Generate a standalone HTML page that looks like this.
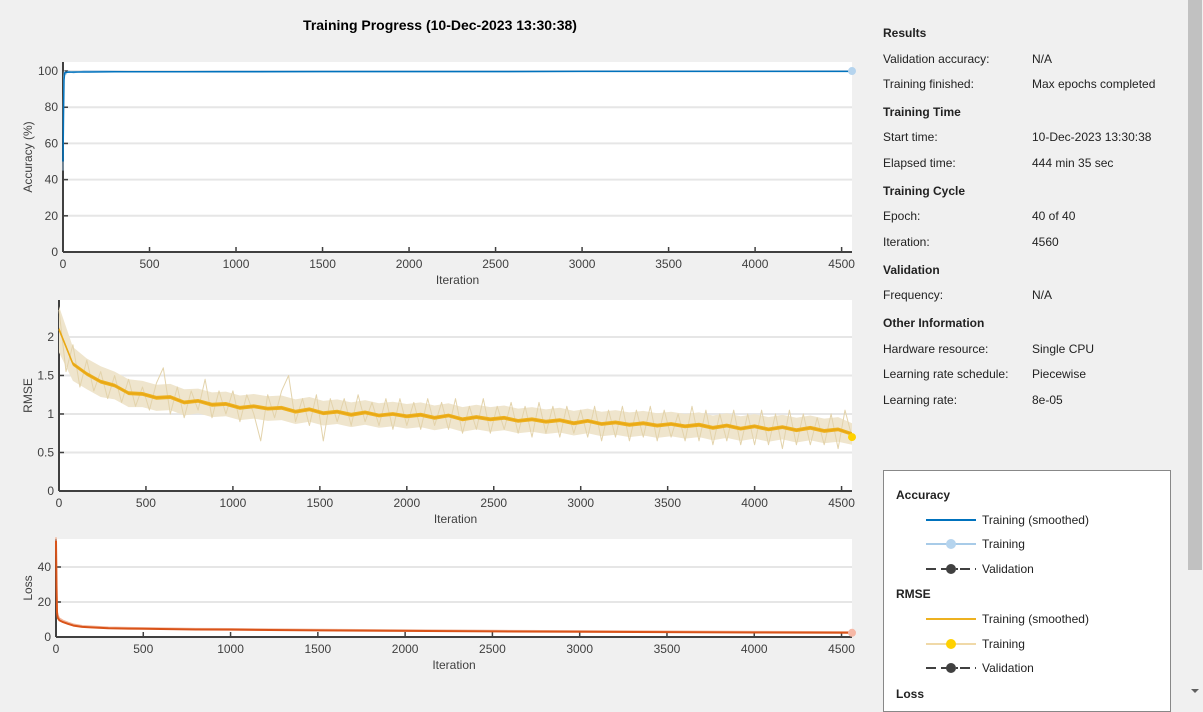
<!DOCTYPE html>
<html><head><meta charset="utf-8">
<style>
html,body{margin:0;padding:0;width:1203px;height:700px;overflow:hidden;background:#f0f0f0;font-family:"Liberation Sans",Arial,sans-serif;}
svg{position:absolute;left:0;top:0;}
.info{position:absolute;font-size:12px;color:#222;}
.hd{font-weight:bold;}
</style></head>
<body>
<svg id="chart" width="1203" height="700"></svg>

<div class="info hd" style="left:883px;top:26px">Results</div>
<div class="info" style="left:883px;top:52px">Validation accuracy:</div>
<div class="info" style="left:1032px;top:52px">N/A</div>
<div class="info" style="left:883px;top:77px">Training finished:</div>
<div class="info" style="left:1032px;top:77px">Max epochs completed</div>
<div class="info hd" style="left:883px;top:105px">Training Time</div>
<div class="info" style="left:883px;top:130px">Start time:</div>
<div class="info" style="left:1032px;top:130px">10-Dec-2023 13:30:38</div>
<div class="info" style="left:883px;top:156px">Elapsed time:</div>
<div class="info" style="left:1032px;top:156px">444 min 35 sec</div>
<div class="info hd" style="left:883px;top:184px">Training Cycle</div>
<div class="info" style="left:883px;top:209px">Epoch:</div>
<div class="info" style="left:1032px;top:209px">40 of 40</div>
<div class="info" style="left:883px;top:235px">Iteration:</div>
<div class="info" style="left:1032px;top:235px">4560</div>
<div class="info hd" style="left:883px;top:263px">Validation</div>
<div class="info" style="left:883px;top:288px">Frequency:</div>
<div class="info" style="left:1032px;top:288px">N/A</div>
<div class="info hd" style="left:883px;top:316px">Other Information</div>
<div class="info" style="left:883px;top:342px">Hardware resource:</div>
<div class="info" style="left:1032px;top:342px">Single CPU</div>
<div class="info" style="left:883px;top:367px">Learning rate schedule:</div>
<div class="info" style="left:1032px;top:367px">Piecewise</div>
<div class="info" style="left:883px;top:393px">Learning rate:</div>
<div class="info" style="left:1032px;top:393px">8e-05</div>

<div style="position:absolute;left:883px;top:470px;width:286px;height:240px;background:#fff;border:1px solid #888;">
  <svg width="286" height="240" style="position:absolute;left:0;top:0">
    <g font-size="12" fill="#222" font-family="Liberation Sans, Arial, sans-serif">
      <text x="12" y="28" font-weight="bold">Accuracy</text>
      <line x1="42" y1="49" x2="92" y2="49" stroke="#0072bd" stroke-width="2"/>
      <text x="98" y="53">Training (smoothed)</text>
      <line x1="42" y1="73" x2="92" y2="73" stroke="#a8cbe8" stroke-width="2"/>
      <circle cx="67" cy="73" r="5" fill="#b5d4ee"/>
      <text x="98" y="77">Training</text>
      <line x1="42" y1="98" x2="92" y2="98" stroke="#404040" stroke-width="2" stroke-dasharray="10,5,10,5,2,2"/>
      <circle cx="67" cy="98" r="5" fill="#404040"/>
      <text x="98" y="102">Validation</text>
      <text x="12" y="127" font-weight="bold">RMSE</text>
      <line x1="42" y1="148" x2="92" y2="148" stroke="#edb120" stroke-width="2"/>
      <text x="98" y="152">Training (smoothed)</text>
      <line x1="42" y1="173" x2="92" y2="173" stroke="#f0d9a8" stroke-width="2"/>
      <circle cx="67" cy="173" r="5" fill="#ffd100"/>
      <text x="98" y="177">Training</text>
      <line x1="42" y1="197" x2="92" y2="197" stroke="#404040" stroke-width="2" stroke-dasharray="10,5,10,5,2,2"/>
      <circle cx="67" cy="197" r="5" fill="#404040"/>
      <text x="98" y="201">Validation</text>
      <text x="12" y="227" font-weight="bold">Loss</text>
    </g>
  </svg>
</div>

<div style="position:absolute;left:1187px;top:0;width:16px;height:700px;background:#f0f0f0">
  <div style="position:absolute;left:1px;top:0;width:14px;height:570px;background:#c1c1c1"></div>
  <div style="position:absolute;left:4px;top:689px;width:0;height:0;border-left:4px solid transparent;border-right:4px solid transparent;border-top:4px solid #606060"></div>
</div>

<script>
// ---------- data ----------
const xTicks = [0,500,1000,1500,2000,2500,3000,3500,4000,4500];
const accTicks = [0,20,40,60,80,100];
const rmseTicks = [0,0.5,1,1.5,2];
const rmseTickLabels = ["0","0.5","1","1.5","2"];
const lossTicks = [0,20,40];

const accIter = [0,3,6,10,20,40,80,150,300,600,1000,1500,2000,2500,3000,3500,4000,4560];
const accSmooth = [50,75,95,99,99.3,99.4,99.5,99.5,99.6,99.6,99.6,99.7,99.7,99.7,99.8,99.8,99.8,99.8];
const accRawIter = [0,2,4,8,15,30,60,120,250,500,900,1400,2000,2600,3200,3800,4300,4560];
const accRaw = [45,80,97,100,98,100,99,100,100,99.5,100,100,100,100,100,100,100,100];

const rmseRaw = [2.35,1.55,1.9,1.35,1.7,1.3,1.55,1.2,1.5,1.15,1.45,1.1,1.35,1.05,1.4,1.6,1.0,1.35,0.95,1.3,1.05,1.45,0.95,1.3,1.0,1.3,0.9,1.25,1.0,0.65,1.25,0.95,1.3,1.5,0.9,1.2,0.85,1.25,0.65,1.2,0.9,1.2,0.85,1.25,0.9,1.15,0.85,1.2,0.8,1.2,0.85,1.15,0.8,1.2,0.85,1.15,0.8,1.2,0.75,1.1,0.8,1.2,0.75,1.1,0.8,1.15,0.75,1.1,0.7,1.15,0.75,1.1,0.7,1.1,0.75,1.05,0.7,1.1,0.65,1.05,0.7,1.1,0.65,1.05,0.7,1.1,0.65,1.05,0.7,1.0,0.65,1.1,0.65,1.05,0.6,1.0,0.65,1.05,0.6,1.0,0.6,1.05,0.6,1.0,0.55,1.05,0.6,1.0,0.6,0.95,0.6,1.0,0.55,1.05,0.7];
const rmseRawStep = 40;
const rmseSmooth = [2.1,1.65,1.52,1.42,1.37,1.27,1.26,1.21,1.22,1.15,1.17,1.12,1.13,1.08,1.1,1.07,1.08,1.03,1.06,1.01,1.03,0.99,1.02,0.98,1.0,0.97,0.99,0.95,0.98,0.93,0.96,0.93,0.95,0.91,0.93,0.9,0.92,0.88,0.91,0.87,0.89,0.86,0.88,0.85,0.87,0.84,0.86,0.82,0.85,0.81,0.84,0.8,0.83,0.79,0.82,0.78,0.8,0.74];
const rmseSmoothStep = 80;
const rmseBandHalf = [0.3,0.22,0.2,0.2,0.18,0.18,0.17,0.17,0.17,0.17,0.16,0.16,0.16,0.16,0.16,0.16,0.16,0.16,0.16,0.16,0.16,0.16,0.16,0.16,0.16,0.16,0.16,0.16,0.16,0.16,0.16,0.16,0.16,0.16,0.16,0.16,0.16,0.16,0.16,0.16,0.16,0.16,0.16,0.16,0.16,0.16,0.16,0.16,0.16,0.16,0.16,0.16,0.16,0.16,0.16,0.16,0.16,0.14];

const lossIter = [0,3,6,10,20,40,70,100,150,200,300,500,800,1000,1500,2000,2500,3000,3500,4000,4300,4560];
const lossSmooth = [55,30,14,11,9.5,8.5,7.5,6.5,5.8,5.5,5,4.7,4.3,4.2,3.8,3.5,3.2,3.0,2.8,2.6,2.5,2.4];
const lossRawOffset = [2,3,2,1.5,1.2,1,0.8,0.8,0.6,0.6,0.6,0.5,0.5,0.5,0.5,0.5,0.5,0.5,0.5,0.5,0.5,0.5];

// ---------- drawing ----------
const NS = "http://www.w3.org/2000/svg";
const svg = document.getElementById("chart");
function el(tag, attrs, parent){const e=document.createElementNS(NS,tag);for(const k in attrs)e.setAttribute(k,attrs[k]);(parent||svg).appendChild(e);return e;}

const title = el("text",{x:440,y:30,"text-anchor":"middle","font-size":14,"font-weight":"bold",fill:"#000"});


title.textContent = "Training Progress (10-Dec-2023 13:30:38)";

function makeAxes(name, L, T, R, B, ymax, yTicks, yLabels, yTitle){
  const g = el("g",{});
  
  
  const sx = v => L + v/4560*(R-L);
  const sy = v => B - v/ymax*(B-T);
  el("rect",{x:L,y:T,width:R-L,height:B-T,fill:"#fff"},g);
  yTicks.forEach((t,i)=>{
    if(t>0){const gl=el("line",{x1:L,x2:R,y1:sy(t),y2:sy(t),stroke:"#e6e6e6","stroke-width":2},g);
      
      }
    el("line",{x1:L,x2:L+5,y1:sy(t),y2:sy(t),stroke:"#404040","stroke-width":1.5},g);
    const tl=el("text",{x:L-5,y:sy(t)+4,"text-anchor":"end","font-size":12,fill:"#404040"},g);
    
    
    tl.textContent = yLabels[i];
  });
  xTicks.forEach(t=>{
    el("line",{x1:sx(t),x2:sx(t),y1:B,y2:B-5,stroke:"#404040","stroke-width":1.5},g);
    const tl=el("text",{x:sx(t),y:B+16,"text-anchor":"middle","font-size":12,fill:"#404040"},g);
    
    
    tl.textContent = t;
  });
  el("line",{x1:L,x2:R,y1:B,y2:B,stroke:"#404040","stroke-width":2},g);
  el("line",{x1:L,x2:L,y1:T,y2:B,stroke:"#404040","stroke-width":2},g);
  const xt=el("text",{x:(L+R)/2,y:B+32,"text-anchor":"middle","font-size":12,fill:"#404040"},g);
  
  
  xt.textContent="Iteration";
  const yt=el("text",{x:0,y:0,"text-anchor":"middle","font-size":12,fill:"#404040",transform:`translate(32,${(T+B)/2}) rotate(-90)`},g);
  
  
  yt.textContent=yTitle;
  return {sx,sy,g};
}
function line(ax, xs, ys, color, w, name){
  const d = xs.map((x,i)=>(i?"L":"M")+ax.sx(x).toFixed(1)+","+ax.sy(ys[i]).toFixed(1)).join("");
  const p = el("path",{d,fill:"none",stroke:color,"stroke-width":w,"stroke-linejoin":"round"},ax.g);
  
  
}
function band(ax, xs, mid, half, color, name){
  const up = xs.map((x,i)=>ax.sx(x).toFixed(1)+","+ax.sy(mid[i]+half[i]).toFixed(1));
  const dn = xs.map((x,i)=>ax.sx(x).toFixed(1)+","+ax.sy(mid[i]-half[i]).toFixed(1)).reverse();
  const p = el("polygon",{points:up.concat(dn).join(" "),fill:color},ax.g);
  
  
}
function marker(ax,x,y,color,name){
  const c=el("circle",{cx:ax.sx(x),cy:ax.sy(y),r:4,fill:color},ax.g);
  
  
}

// Accuracy
const a1 = makeAxes("accuracy",63,62,852,252,105,accTicks,accTicks.map(String),"Accuracy (%)");
line(a1, accRawIter, accRaw, "#a8cbe8", 1, "accuracy-training-line");
line(a1, accIter, accSmooth, "#0072bd", 1.5, "accuracy-smoothed-line");
marker(a1, 4560, accRaw[accRaw.length-1], "#b5d4ee", "accuracy-final-marker");

// RMSE
const a2 = makeAxes("rmse",59,300,852,491,2.48,rmseTicks,rmseTickLabels,"RMSE");
const smIter = rmseSmooth.map((_,i)=>Math.min(i*rmseSmoothStep,4560));
band(a2, smIter, rmseSmooth, rmseBandHalf, "#efe5cd", "rmse-training-band");
line(a2, rmseRaw.map((_,i)=>Math.min(i*rmseRawStep,4560)), rmseRaw, "#e3d3ab", 1, "rmse-training-line");
band(a2, smIter, rmseSmooth, rmseSmooth.map(()=>0.025), "#edb120", "rmse-smoothed-band");
line(a2, smIter, rmseSmooth, "#e9a815", 1.5, "rmse-smoothed-line");
marker(a2, 4560, rmseRaw[rmseRaw.length-1], "#ffd100", "rmse-final-marker");

// Loss
const a3 = makeAxes("loss",56,539,852,637,56,lossTicks,lossTicks.map(String),"Loss");
line(a3, lossIter, lossSmooth.map((v,i)=>v+lossRawOffset[i]), "#f1b59a", 1.5, "loss-training-line");
line(a3, lossIter, lossSmooth, "#d95319", 2, "loss-smoothed-line");
marker(a3, 4560, lossSmooth[lossSmooth.length-1], "#f6b8a6", "loss-final-marker");
</script>
</body></html>
